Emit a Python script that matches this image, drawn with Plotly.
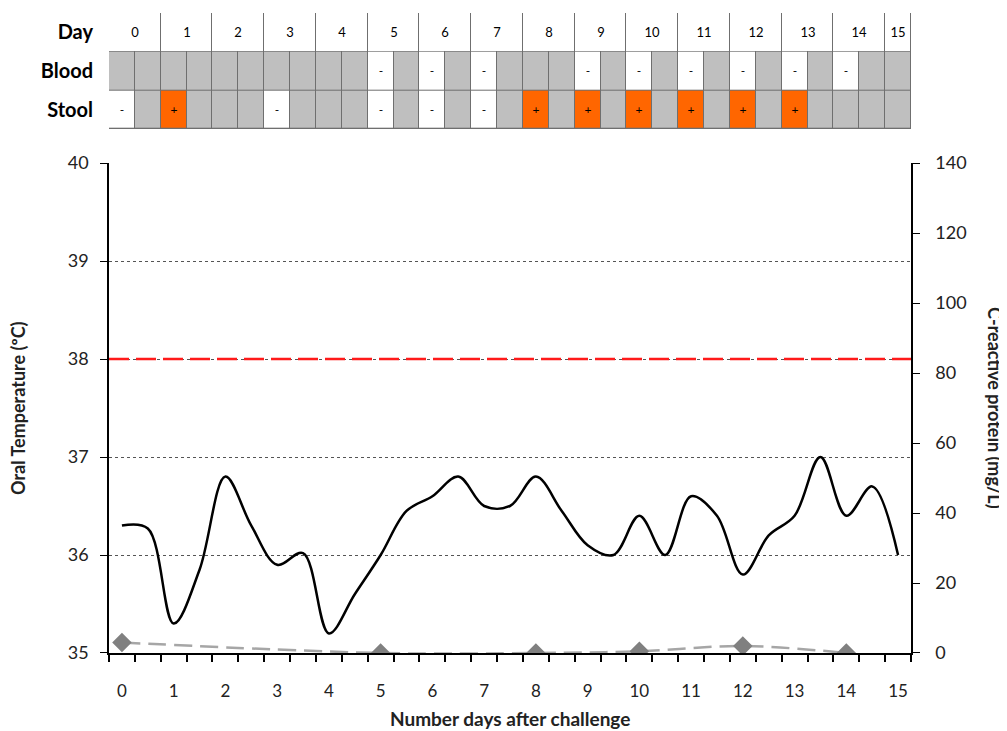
"""Oral temperature and CRP after challenge, with blood / stool culture table on top."""
import plotly.graph_objs as go

# temperature readings, twice a day
temp_days = [0, 0.5, 1, 1.5, 2, 2.5, 3, 3.5, 4, 4.5, 5, 5.5, 6, 6.5, 7, 7.5,
             8, 8.5, 9, 9.5, 10, 10.5, 11, 11.5, 12, 12.5, 13, 13.5, 14, 14.5, 15]
temp_c = [36.3, 36.27, 35.3, 35.85, 36.8, 36.3, 35.9, 36.02, 35.2, 35.6, 36.0, 36.45,
          36.6, 36.8, 36.5, 36.5, 36.8, 36.45, 36.1, 36.0, 36.4, 36.0, 36.6, 36.4,
          35.8, 36.2, 36.4, 37.0, 36.4, 36.7, 36.0]

# C-reactive protein
crp_days = [0, 5, 8, 10, 12, 14]
crp_mgl = [3, 0, 0, 0.5, 2, 0]

fever_threshold = 38

# culture table: one cell per half day, 0 = not done, 1 = negative, 2 = positive
days = list(range(16))
cell_edges = [-0.25] + [d + 0.25 for d in temp_days]
cell_edges[-1] = 15.25
day_edges = [d - 0.25 for d in days] + [15.25]
blood = [0, 0, 0, 0, 0, 0, 0, 0, 0, 0, 1, 0, 1, 0, 1, 0,
         0, 0, 1, 0, 1, 0, 1, 0, 1, 0, 1, 0, 1, 0, 0]
stool = [1, 0, 2, 0, 0, 0, 1, 0, 0, 0, 1, 0, 1, 0, 1, 0,
         2, 0, 2, 0, 2, 0, 2, 0, 2, 0, 2, 0, 0, 0, 0]
marks = {0: '', 1: '-', 2: '+'}

FONT = 'Lato, Open Sans, sans-serif'
cell_scale = [[0, '#bfbfbf'], [0.5, '#ffffff'], [1, '#ff6600']]

data = [
    go.Scatter(
        x=crp_days, y=crp_mgl, yaxis='y2', mode='lines+markers',
        line=dict(color='#a6a6a6', width=2.5, dash='18px,8px', shape='spline'),
        marker=dict(symbol='diamond', size=15, color='#808080'),
    ),
    go.Scatter(
        x=temp_days, y=temp_c, mode='lines',
        line=dict(color='black', width=2.5, shape='spline', smoothing=1),
    ),
    # culture rows
    go.Heatmap(
        x=cell_edges, y=[0, 1, 2], z=[stool, blood],
        text=[[marks[v] for v in stool], [marks[v] for v in blood]],
        texttemplate='%{text}', textfont=dict(size=12, color='black', family=FONT),
        colorscale=cell_scale, zmin=0, zmax=2, showscale=False,
        xgap=1, ygap=1, yaxis='y3', hoverinfo='skip',
    ),
    # day header row
    go.Heatmap(
        x=day_edges, y=[2, 3], z=[[1] * len(days)],
        text=[[str(d) for d in days]],
        texttemplate='%{text}', textfont=dict(size=13, color='black', family=FONT),
        colorscale=cell_scale, zmin=0, zmax=2, showscale=False,
        xgap=1, ygap=1, yaxis='y3', hoverinfo='skip',
    ),
]

# the page body keeps its 8px margin, so the figure is sized and offset for it
layout = go.Layout(
    width=999, height=723,
    margin=dict(l=101, r=96, t=5, b=78, autoexpand=False),
    showlegend=False,
    plot_bgcolor='white', paper_bgcolor='white',
    font=dict(family=FONT, size=18, color='#222'),

    xaxis=dict(
        range=[-0.25, 15.25], tickmode='linear', tick0=0, dtick=1,
        # invisible major ticks just push the labels down
        ticks='outside', ticklen=20, tickcolor='rgba(0,0,0,0)', ticklabelstandoff=2,
        showgrid=False, zeroline=False, automargin=False,
        showline=True, linecolor='black', linewidth=1.5,
        tickfont=dict(size=17),
        minor=dict(tickmode='linear', tick0=-0.25, dtick=0.5, ticks='outside',
                   ticklen=7, tickcolor='black', tickwidth=1.5, showgrid=False),
    ),
    yaxis=dict(
        domain=[0, 0.7656], range=[35, 40], dtick=1,
        ticks='outside', ticklen=7, tickcolor='black', automargin=False,
        showline=True, linecolor='black', linewidth=1.5, ticklabelstandoff=8,
        showgrid=True, gridcolor='#555', griddash='dot', gridwidth=1,
        zeroline=False, tickfont=dict(size=18),
    ),
    yaxis2=dict(
        overlaying='y', side='right', range=[0, 140], dtick=20,
        ticks='outside', ticklen=7, tickcolor='black', automargin=False,
        showline=True, linecolor='black', linewidth=1.5, ticklabelstandoff=12,
        showgrid=False, zeroline=False, tickfont=dict(size=18),
    ),
    yaxis3=dict(
        domain=[0.81875, 1], range=[0, 3], anchor='x', automargin=False,
        tickmode='array', tickvals=[0.5, 1.5, 2.5],
        ticktext=['<b>Stool</b>', '<b>Blood</b>', '<b>Day</b>'],
        tickfont=dict(size=20, color='black'), ticks='outside', ticklen=11,
        tickcolor='rgba(0,0,0,0)',
        showgrid=False, zeroline=False, showline=False, fixedrange=True,
    ),

    shapes=[
        # border colour behind the table cells
        dict(type='rect', xref='x', yref='y3', x0=day_edges[0], x1=day_edges[-1],
             y0=0, y1=3, fillcolor='#6f6f6f', line=dict(width=0), layer='below'),
        dict(type='line', xref='paper', x0=0, x1=1, yref='y',
             y0=fever_threshold, y1=fever_threshold,
             line=dict(color='#ff1a1a', width=2.5, dash='20px,7px')),
    ],

    annotations=[
        dict(text='<b>Oral Temperature (ºC)</b>', textangle=-90,
             xref='paper', yref='paper', x=-0.1135, y=0.3828, showarrow=False,
             font=dict(size=18), xanchor='center', yanchor='middle'),
        dict(text='<b>C-reactive protein (mg/L)</b>', textangle=90,
             xref='paper', yref='paper', x=1.1047, y=0.3828, showarrow=False,
             font=dict(size=18), xanchor='center', yanchor='middle'),
        dict(text='<b>Number days after challenge</b>',
             xref='paper', yref='paper', x=0.5, y=-0.1016, showarrow=False,
             font=dict(size=19), xanchor='center', yanchor='middle'),
    ],
)

fig = go.Figure(data=data, layout=layout)
fig.write_html("out.html")
